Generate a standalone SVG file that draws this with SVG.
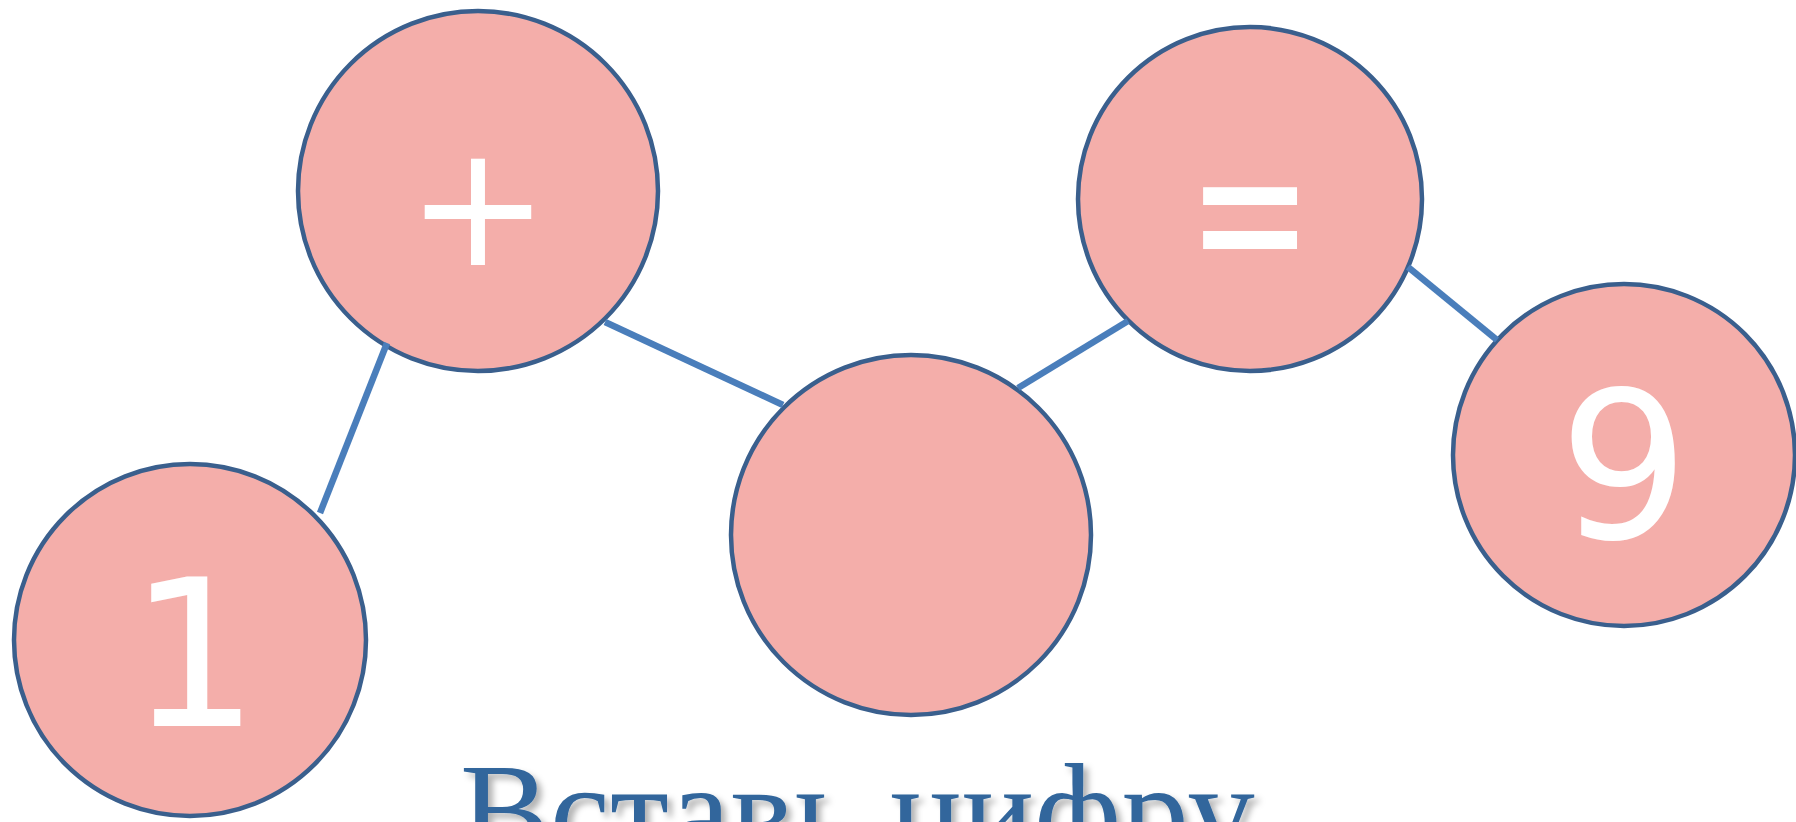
<svg xmlns="http://www.w3.org/2000/svg" width="1796" height="822" viewBox="0 0 1796 822">
  <defs>
    <style>
      .node { fill: #f4aeaa; stroke: #3a5f8d; stroke-width: 4.5; }
      .edge { stroke: #4a7ebb; stroke-width: 6.5; fill: none; }
      .lbl { fill: #ffffff; font-family: "DejaVu Sans", "Noto Sans", sans-serif; text-anchor: middle; }
      .title { fill: #32669c; font-family: "Liberation Serif", "DejaVu Serif", serif; font-size: 135px; }
    </style>
    <filter id="shadow" x="-10%" y="-50%" width="120%" height="200%">
      <feDropShadow dx="5" dy="5" stdDeviation="3" flood-color="#000000" flood-opacity="0.3"/>
    </filter>
  </defs>
  <rect x="0" y="0" width="1796" height="822" fill="#ffffff"/>

  <g id="node-one">
    <circle class="node" cx="190" cy="640" r="176"/>
    <text class="lbl" x="194" y="726" font-size="205">1</text>
  </g>
  <g id="node-plus">
    <circle class="node" cx="478" cy="191" r="180"/>
    <text class="lbl" x="478" y="265" font-size="170">+</text>
  </g>
  <g id="node-blank">
    <circle class="node" cx="911" cy="535" r="180"/>
  </g>
  <g id="node-equals">
    <circle class="node" cx="1250" cy="199" r="172"/>
    <text class="lbl" transform="translate(1250,286) scale(1,1.45)" x="0" y="0" font-size="150">=</text>
  </g>
  <g id="node-nine">
    <circle class="node" cx="1624" cy="455" r="171"/>
    <text class="lbl" x="1624" y="538" font-size="205">9</text>
  </g>

  <g id="connectors">
    <line class="edge" x1="320" y1="513" x2="387" y2="343"/>
    <line class="edge" x1="605" y1="322" x2="783" y2="405"/>
    <line class="edge" x1="1018" y1="388" x2="1128" y2="321"/>
    <line class="edge" x1="1408" y1="267" x2="1497" y2="340"/>
  </g>

  <g id="title">
    <text class="title" x="460" y="857" filter="url(#shadow)">Вставь цифру</text>
  </g>
</svg>
